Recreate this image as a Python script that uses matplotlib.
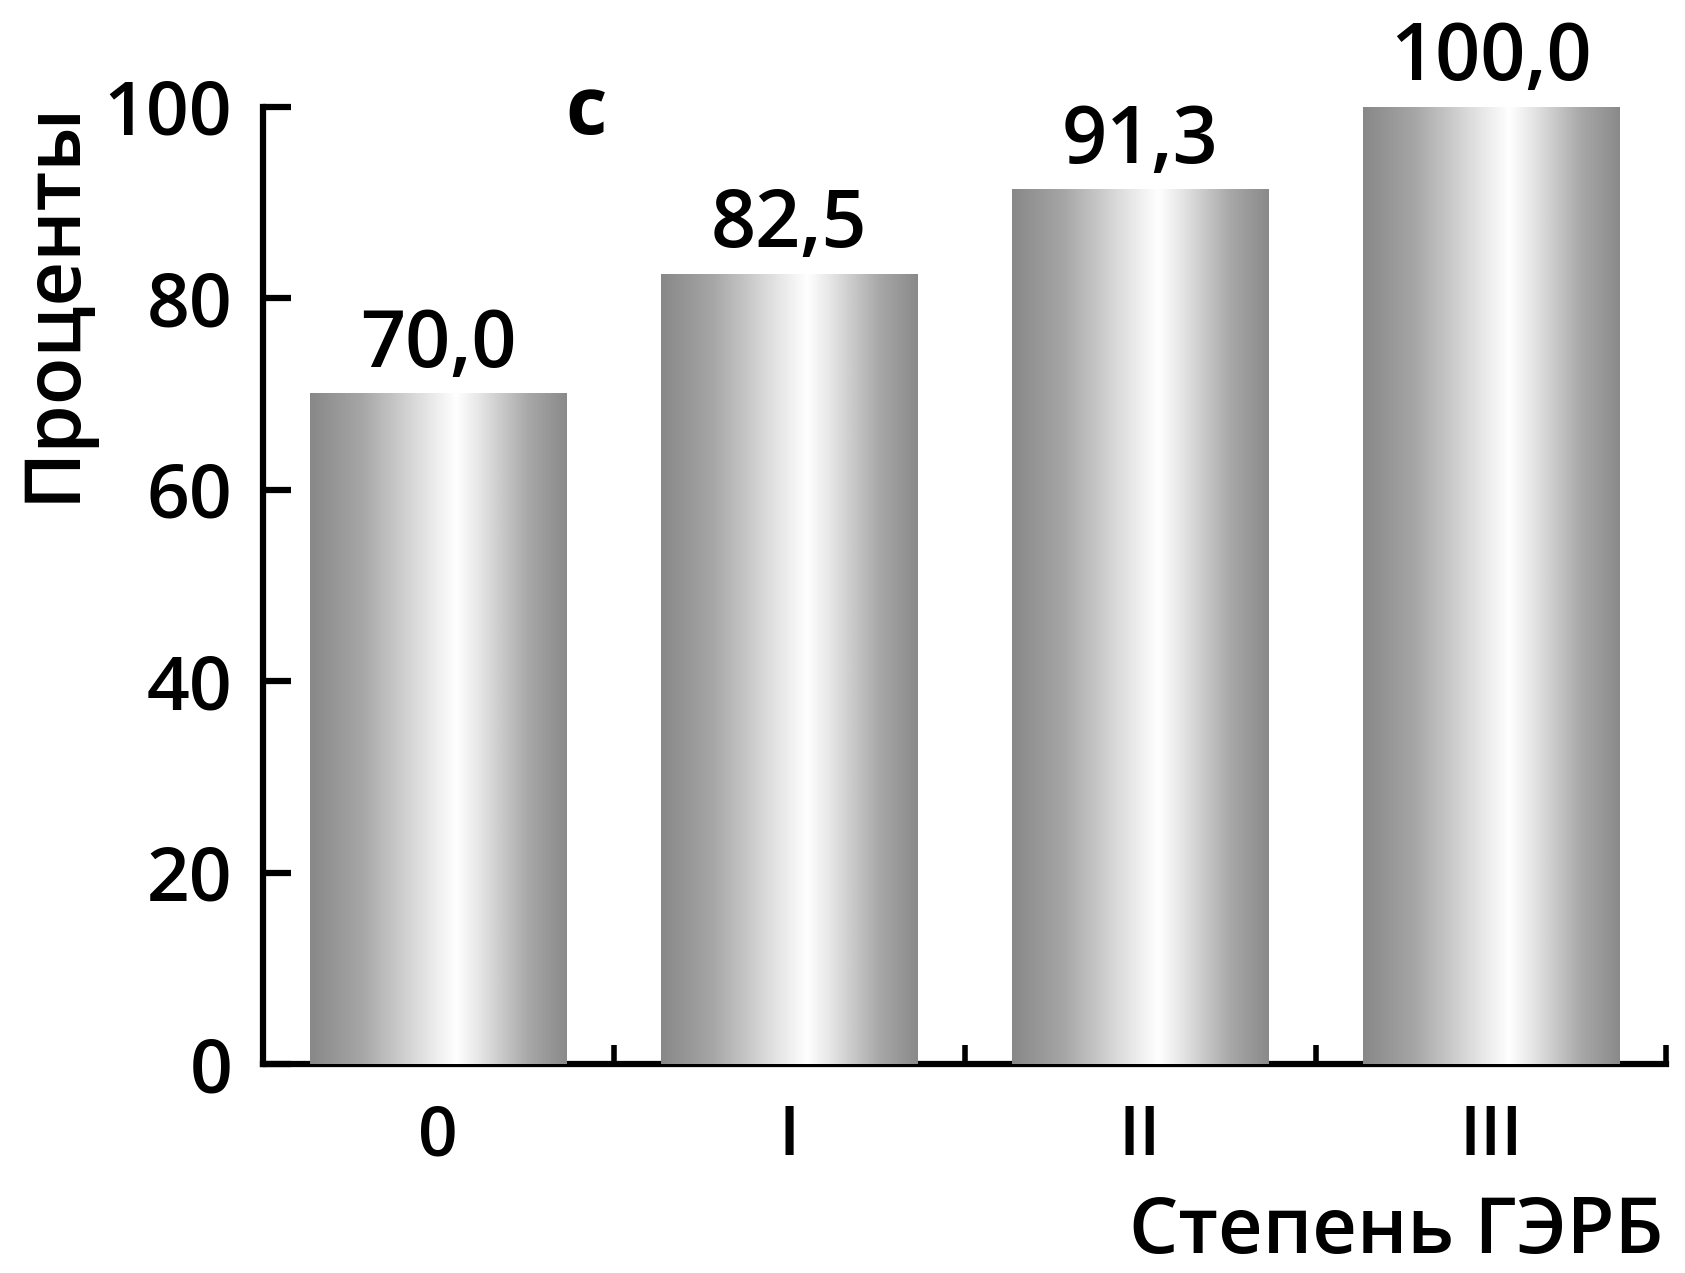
import matplotlib
matplotlib.use('Agg')
import matplotlib.pyplot as plt
import numpy as np
from matplotlib.colors import LinearSegmentedColormap

plt.rcParams['font.family'] = ['Open Sans', 'DejaVu Sans']
plt.rcParams['font.weight'] = 'semibold'

# Data
categories = ['0', 'I', 'II', 'III']
percents = [70.0, 82.5, 91.3, 100.0]
value_labels = ['70,0', '82,5', '91,3', '100,0']

# Gray cylinder-like gradient
shade = LinearSegmentedColormap.from_list('shade', [
    (0.00, '#888888'), (0.20, '#a6a6a6'), (0.45, '#e4e4e4'),
    (0.57, '#ffffff'), (0.66, '#e6e6e6'), (0.85, '#a8a8a8'), (1.00, '#8a8a8a')])

fig = plt.figure(figsize=(16.85, 12.73), dpi=100)
ax = fig.add_axes([0.156, 0.164, 0.833, 0.752])

x = np.arange(len(categories))
bars = ax.bar(x, percents, width=0.73, color='none', zorder=3)

grad = np.linspace(0, 1, 256).reshape(1, -1)
for b in bars:
    x0, w, h = b.get_x(), b.get_width(), b.get_height()
    ax.imshow(grad, cmap=shade, aspect='auto', extent=(x0, x0 + w, 0, h),
              zorder=3, interpolation='bicubic')

for xi, v, lab in zip(x, percents, value_labels):
    ax.annotate(lab, (xi, v), textcoords='offset points', xytext=(0, 6),
                ha='center', va='bottom', fontsize=57)

ax.set_xlim(-0.5, 3.5)
ax.set_ylim(0, 100)

for s in ['top', 'right']:
    ax.spines[s].set_visible(False)
for s in ['left', 'bottom']:
    ax.spines[s].set_linewidth(4.5)

ax.set_yticks([0, 20, 40, 60, 80, 100])
ax.tick_params(axis='y', direction='in', length=20, width=4.5, pad=22,
               labelsize=54)

ax.set_xticks(x)
ax.set_xticklabels(categories)
ax.tick_params(axis='x', length=0, pad=28, labelsize=50)
ax.set_xticks(x + 0.5, minor=True)
ax.tick_params(axis='x', which='minor', direction='in', length=14, width=4)

fig.text(0.032, 0.764, 'Проценты', rotation=90, ha='center', va='center',
         fontsize=56)
fig.text(0.987, 0.001, 'Степень ГЭРБ', ha='right', va='bottom', fontsize=56)
fig.text(0.348, 0.911, 'c', ha='center', va='center', fontsize=58,
         fontweight='bold')

plt.savefig('out.png', dpi=100)
